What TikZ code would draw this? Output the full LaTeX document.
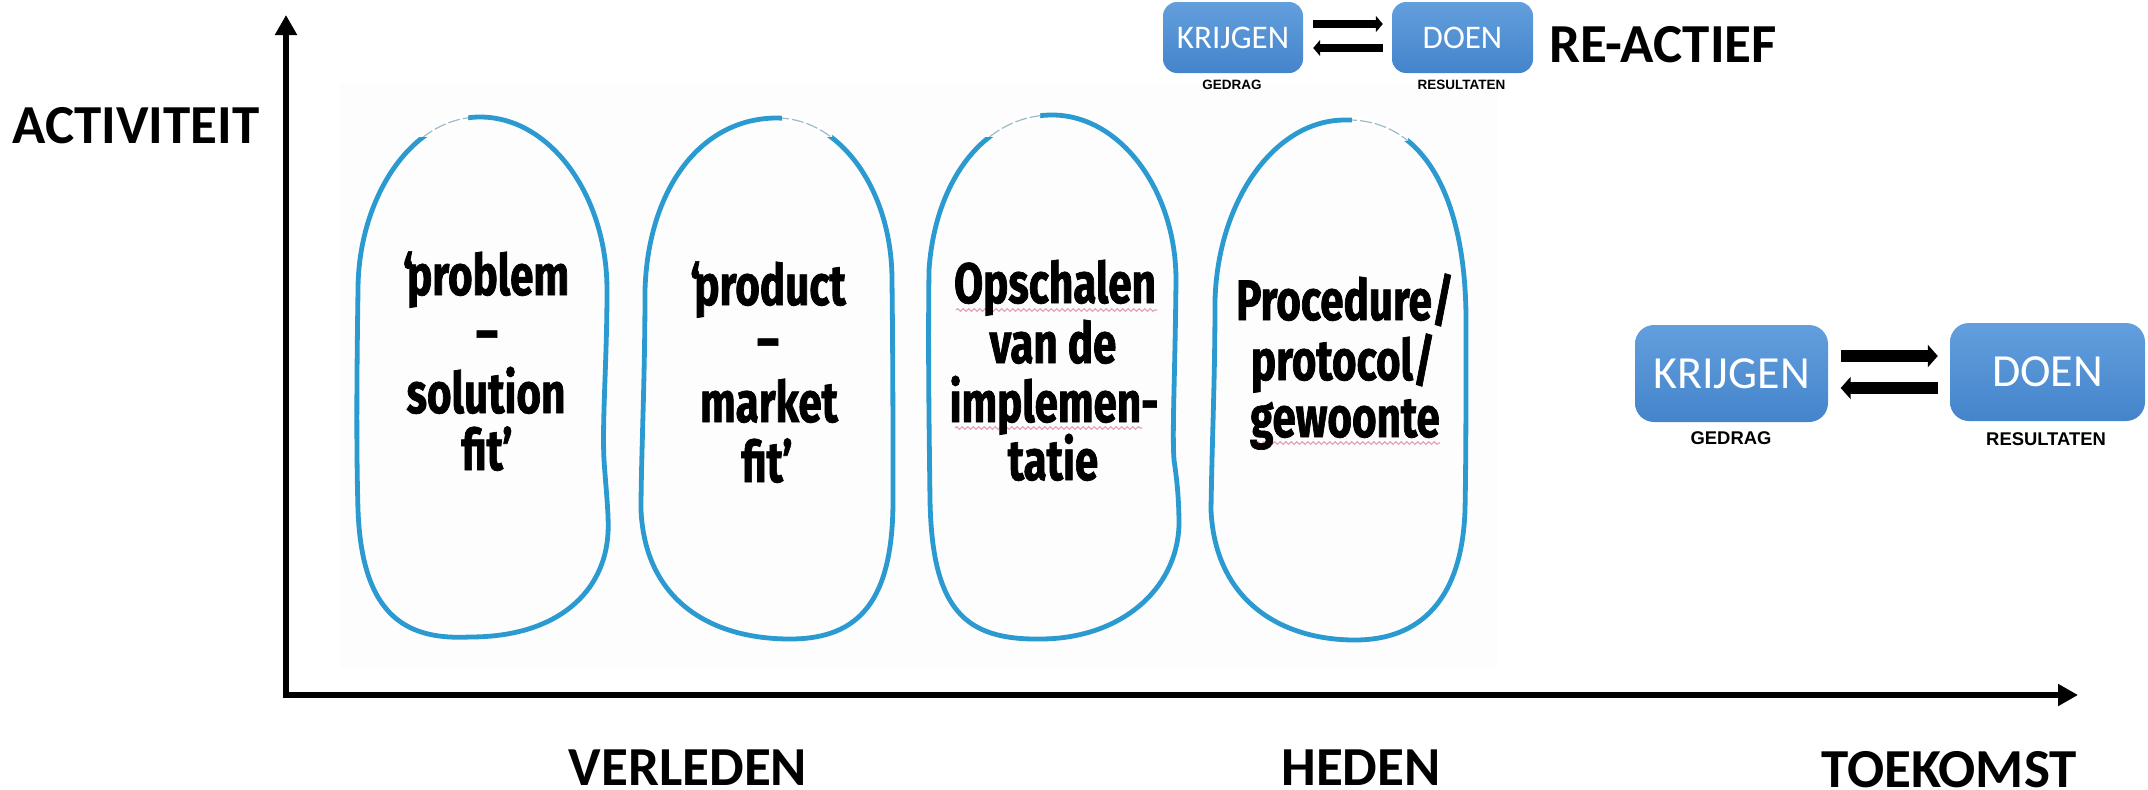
\documentclass[tikz,border=0pt]{standalone}
\usepackage{fontspec}
\setmainfont{Carlito}
\newfontfamily\arialf{Liberation Sans}
\newfontfamily\handf[FakeStretch=0.74,BoldFeatures={FakeBold=1.2}]{Fira Sans}
\usetikzlibrary{arrows.meta,calc,decorations.pathmorphing}
\definecolor{blobblue}{HTML}{2B9AD0}
\definecolor{boxtop}{HTML}{639FDD}
\definecolor{boxbot}{HTML}{4484CB}
\definecolor{squig}{HTML}{E5A0B4}
\definecolor{faint}{HTML}{FDFDFD}
\tikzset{
  blob/.style={draw=blobblue,line width=4.8pt,line join=round},
  thinbit/.style={draw=white,line width=7pt},
  sketchbit/.style={draw=blobblue!45!gray!60,line width=1.2pt,dash pattern=on 12pt off 3pt},
  hand/.style={anchor=base,inner sep=0pt,text=black,font=\handf\bfseries\fontsize{57}{60}\selectfont},
  biglabel/.style={anchor=base,inner sep=0pt,text=black,font=\bfseries\fontsize{55}{60}\selectfont},
  bluebox/.style={draw=none,rounded corners=#1,top color=boxtop,bottom color=boxbot,inner sep=0pt,text=white},
  smallcap/.style={anchor=base,inner sep=0pt,text=black,font=\arialf\bfseries\fontsize{13.5}{15}\selectfont},
  bigcap/.style={anchor=base,inner sep=0pt,text=black,font=\arialf\bfseries\fontsize{18.4}{20}\selectfont},
  axis/.style={line width=6.5pt,-{Triangle[length=20pt,width=21pt]}},
  fatsmall/.style={line width=8pt,-{Triangle[length=7pt,width=16pt]}},
  fatbig/.style={line width=11.5pt,-{Triangle[length=10pt,width=22pt]}},
  squiggle/.style={draw=squig,line width=1.2pt,decorate,decoration={snake,amplitude=1.3pt,segment length=5.5pt}}
}
\newcommand{\blobA}{(480,117) .. controls (550,117) and (607,195) .. (607,290) .. controls (607,360) and (602,420) .. (604,460) .. controls (606,490) and (609,515) .. (608,533) .. controls (605,590) and (560,637) .. (470,637) .. controls (410,640) and (362,620) .. (358,510) .. controls (356,440) and (357,360) .. (358,290) .. controls (358,200) and (410,117) .. (480,117) -- cycle}
\newcommand{\blobB}{(777,118) .. controls (840,118) and (892,190) .. (892,280) .. controls (893,370) and (893,440) .. (893,500) .. controls (893,600) and (860,639) .. (790,639) .. controls (710,639) and (645,600) .. (641,510) .. controls (641,460) and (645,380) .. (645,290) .. controls (648,190) and (700,118) .. (777,118) -- cycle}
\newcommand{\blobC}{(1052,115) .. controls (1120,115) and (1176,190) .. (1176,280) .. controls (1175,380) and (1172,430) .. (1174,460) .. controls (1177,480) and (1179,500) .. (1179,525) .. controls (1177,590) and (1120,639) .. (1040,639) .. controls (965,640) and (932,610) .. (930,500) .. controls (929,420) and (928,350) .. (929,270) .. controls (935,180) and (985,115) .. (1052,115) -- cycle}
\newcommand{\blobD}{(1345,120) .. controls (1425,118) and (1466,200) .. (1466,320) .. controls (1466,400) and (1466,460) .. (1465,510) .. controls (1462,600) and (1420,640) .. (1355,640) .. controls (1280,640) and (1215,600) .. (1211,510) .. controls (1212,440) and (1215,380) .. (1215,300) .. controls (1218,200) and (1275,120) .. (1345,120) -- cycle}
\begin{document}
\begin{tikzpicture}[x=1pt,y=-1pt]
\useasboundingbox (0,0) rectangle (2148,790);
\fill[white] (0,0) rectangle (2148,790);
\fill[faint] (340,83) rectangle (1498,668);

% axes
\coordinate (origin) at (286,695);
\coordinate (ytop) at (286,15);
\coordinate (xend) at (2078,695);
\draw[axis,line cap=butt] (origin) -- (ytop);
\draw[axis] ($(origin)+(-3.25,0)$) -- (xend);

% blobs
\draw[blob] \blobA;
\draw[blob] \blobB;
\draw[blob] \blobC;
\draw[blob] \blobD;

% sketchy tops
\begin{scope}\clip (410,100) rectangle (468,136); \draw[thinbit] \blobA; \draw[sketchbit] \blobA; \end{scope}
\begin{scope}\clip (782,100) rectangle (832,136); \draw[thinbit] \blobB; \draw[sketchbit] \blobB; \end{scope}
\begin{scope}\clip (985,100) rectangle (1040,136); \draw[thinbit] \blobC; \draw[sketchbit] \blobC; \end{scope}
\begin{scope}\clip (1352,100) rectangle (1408,140); \draw[thinbit] \blobD; \draw[sketchbit] \blobD; \end{scope}

% spell-check squiggles
\coordinate (sqa) at (956,310); \coordinate (sqb) at (1157,310);
\coordinate (sqc) at (955,428); \coordinate (sqd) at (1142,428);
\coordinate (sqe) at (1251,443); \coordinate (sqf) at (1440,443);
\draw[squiggle] (sqa) -- (sqb);
\draw[squiggle] (sqc) -- (sqd);
\draw[squiggle] (sqe) -- (sqf);

% handwritten text
\node[hand] (a1) at (486,295) {‘\kern-6pt problem};
\node[hand] (a2) at (487,352) {–};
\node[hand] (a3) at (486,413) {solution};
\node[hand] (a4) at (487,470) {fit’};
\node[hand] (b1) at (768,305) {‘\kern-6pt product};
\node[hand] (b2) at (768,360) {–};
\node[hand] (b3) at (769,422) {market};
\node[hand] (b4) at (767,482) {fit’};
\node[hand] (c1) at (1055,303) {Opschalen};
\node[hand] (c2) at (1053,363) {van de};
\node[hand] (c3) at (1054,422) {implemen-};
\node[hand] (c4) at (1053,480) {tatie};
\node[hand] (d1) at (1345,320) {Procedure/};
\node[hand] (d2) at (1343,380) {protocol/};
\node[hand] (d3) at (1345,437) {gewoonte};

% labels
\node[biglabel] (act) at (136,143) {ACTIVITEIT};
\node[biglabel] (ver) at (688,785) {VERLEDEN};
\node[biglabel] (hed) at (1361,785) {HEDEN};
\node[biglabel] (toe) at (1949,787) {TOEKOMST};
\node[biglabel] (rea) at (1663,62) {RE-ACTIEF};

% small pair
\node[bluebox=14pt,minimum width=140pt,minimum height=71pt,font=\fontsize{33}{36}\selectfont] (k1) at (1233,37.5) {KRIJGEN};
\node[bluebox=14pt,minimum width=141pt,minimum height=71pt,font=\fontsize{33}{36}\selectfont] (d1box) at (1462.5,37.5) {DOEN};
\draw[fatsmall] ([shift={(10,-13.5)}]k1.east) -- ([shift={(-9,-13.5)}]d1box.west);
\draw[fatsmall] ([shift={(-9,10.5)}]d1box.west) -- ([shift={(10,10.5)}]k1.east);
\node[smallcap] (g1) at (1232,89) {GEDRAG};
\node[smallcap] (r1) at (1461.5,89) {RESULTATEN};

% big pair
\node[bluebox=19pt,minimum width=193pt,minimum height=97pt,font=\fontsize{46}{50}\selectfont] (k2) at (1731.5,373.5) {KRIJGEN};
\node[bluebox=19pt,minimum width=195pt,minimum height=98pt,font=\fontsize{46}{50}\selectfont] (d2box) at (2047.5,372) {DOEN};
\draw[fatbig] ([shift={(12.5,-17.5)}]k2.east) -- ([shift={(-12,-16)}]d2box.west);
\draw[fatbig] ([shift={(-12,16)}]d2box.west) -- ([shift={(12.5,14.5)}]k2.east);
\node[bigcap] (g2) at (1731,444) {GEDRAG};
\node[bigcap] (r2) at (2046,445) {RESULTATEN};
\end{tikzpicture}
\end{document}
